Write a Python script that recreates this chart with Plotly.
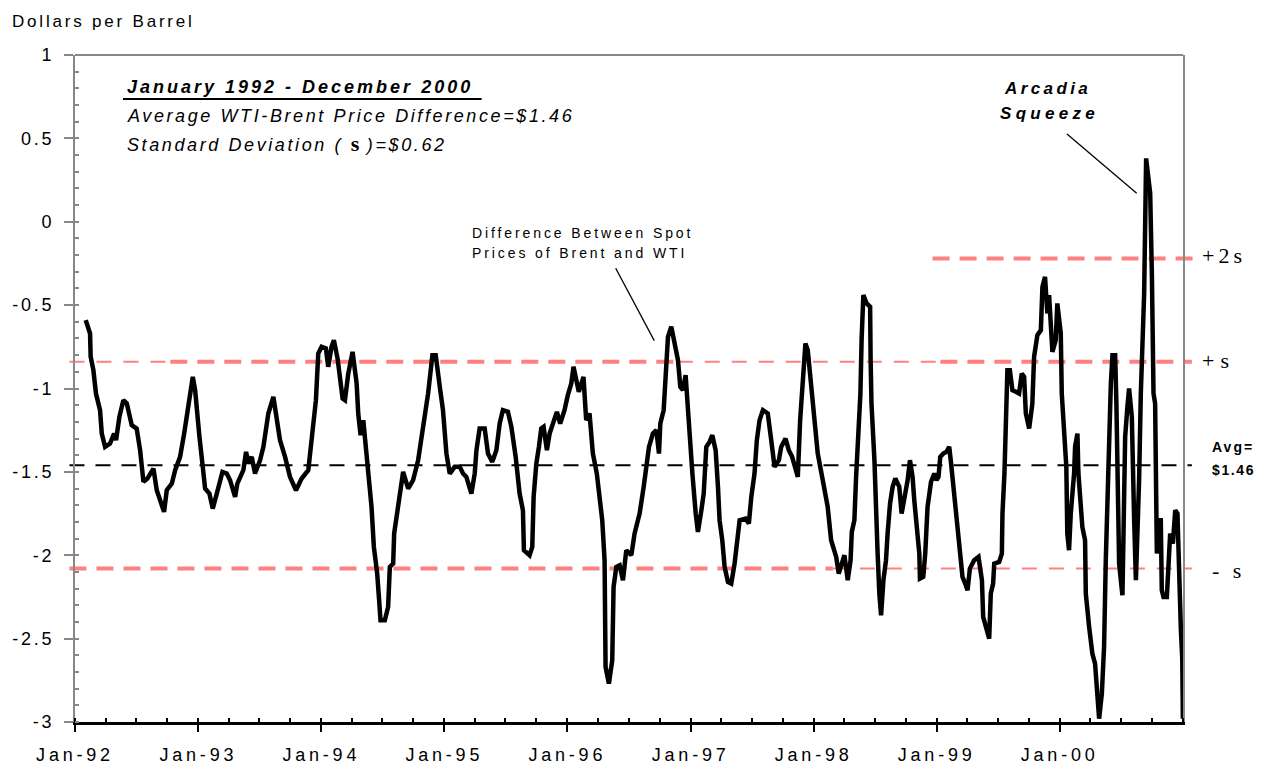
import plotly.graph_objects as go
import pandas as pd

# WTI-Brent spot price difference (decimal year, $/bbl)
years = [
    1992.087, 1992.122, 1992.127, 1992.149, 1992.170, 1992.203, 1992.217, 1992.244, 1992.284, 1992.317,
    1992.333, 1992.360, 1992.392, 1992.420, 1992.460, 1992.500, 1992.528, 1992.555, 1992.587, 1992.609,
    1992.636, 1992.663, 1992.690, 1992.722, 1992.744, 1992.785, 1992.812, 1992.852, 1992.885, 1992.920,
    1992.939, 1992.955, 1992.974, 1992.988,
    1993.009, 1993.036, 1993.055, 1993.090, 1993.117, 1993.150, 1993.177, 1993.196, 1993.231, 1993.258,
    1993.299, 1993.317, 1993.366, 1993.388, 1993.407, 1993.434, 1993.461, 1993.502, 1993.529, 1993.569,
    1993.610, 1993.637, 1993.664, 1993.705, 1993.745, 1993.794, 1993.840, 1993.894, 1993.913, 1993.935,
    1993.956, 1993.975,
    1994.002, 1994.037, 1994.056, 1994.083, 1994.102, 1994.132, 1994.173, 1994.192, 1994.219, 1994.254,
    1994.287, 1994.300, 1994.319, 1994.341, 1994.362, 1994.389, 1994.408, 1994.427, 1994.454, 1994.470,
    1994.481, 1994.516, 1994.543, 1994.557, 1994.584, 1994.592, 1994.617, 1994.638, 1994.665, 1994.706,
    1994.746, 1994.787, 1994.827, 1994.868, 1994.903, 1994.930, 1994.963, 1994.989,
    1995.017, 1995.044, 1995.084, 1995.125, 1995.152, 1995.179, 1995.220, 1995.247, 1995.261, 1995.287,
    1995.328, 1995.355, 1995.390, 1995.423, 1995.450, 1995.476, 1995.517, 1995.545, 1995.580, 1995.612,
    1995.639, 1995.647, 1995.693, 1995.715, 1995.726, 1995.748, 1995.769, 1995.788, 1995.807, 1995.834,
    1995.856, 1995.888, 1995.915, 1995.942, 1995.977,
    1996.004, 1996.032, 1996.050, 1996.072, 1996.093, 1996.131, 1996.153, 1996.180, 1996.207, 1996.239,
    1996.261, 1996.283, 1996.302, 1996.310, 1996.337, 1996.364, 1996.375, 1996.397, 1996.424, 1996.451,
    1996.478, 1996.519, 1996.545, 1996.586, 1996.619, 1996.640, 1996.662, 1996.694, 1996.722, 1996.743,
    1996.754, 1996.781, 1996.803, 1996.816, 1996.843, 1996.870, 1996.897, 1996.916, 1996.937, 1996.959,
    1996.978, 1996.992,
    1997.014, 1997.041, 1997.059, 1997.087, 1997.106, 1997.127, 1997.154, 1997.176, 1997.203, 1997.222,
    1997.235, 1997.257, 1997.276, 1997.303, 1997.330, 1997.357, 1997.384, 1997.398, 1997.446, 1997.473,
    1997.493, 1997.519, 1997.538, 1997.560, 1997.587, 1997.627, 1997.655, 1997.682, 1997.717, 1997.736,
    1997.771, 1997.798, 1997.825, 1997.852, 1997.871, 1997.890, 1997.911, 1997.933, 1997.952, 1997.980,
    1998.006, 1998.033, 1998.074, 1998.114, 1998.142, 1998.183, 1998.204, 1998.250, 1998.277, 1998.300,
    1998.310, 1998.331, 1998.345, 1998.358, 1998.380, 1998.390, 1998.404, 1998.431, 1998.459, 1998.463,
    1998.470, 1998.494, 1998.502, 1998.520, 1998.534, 1998.548, 1998.567, 1998.588, 1998.601, 1998.621,
    1998.642, 1998.664, 1998.696, 1998.715, 1998.737, 1998.764, 1998.783, 1998.804, 1998.818, 1998.837,
    1998.859, 1998.864, 1998.891, 1998.907, 1998.926, 1998.954, 1998.981, 1998.999,
    1999.015, 1999.029, 1999.054, 1999.080, 1999.102, 1999.116, 1999.143, 1999.157, 1999.178, 1999.189,
    1999.210, 1999.232, 1999.251, 1999.270, 1999.305, 1999.340, 1999.368, 1999.378, 1999.400, 1999.427,
    1999.440, 1999.459, 1999.468, 1999.508, 1999.530, 1999.535, 1999.551, 1999.563, 1999.575, 1999.595,
    1999.616, 1999.644, 1999.670, 1999.692, 1999.711, 1999.725, 1999.752, 1999.778, 1999.792, 1999.819,
    1999.847, 1999.860, 1999.881, 1999.900, 1999.914, 1999.941, 1999.968, 1999.981,
    2000.009, 2000.017, 2000.036, 2000.054, 2000.062, 2000.076, 2000.090, 2000.117, 2000.125, 2000.144,
    2000.152, 2000.171, 2000.184, 2000.206, 2000.212, 2000.239, 2000.265, 2000.287, 2000.306, 2000.320,
    2000.342, 2000.360, 2000.374, 2000.387, 2000.396, 2000.415, 2000.428, 2000.450, 2000.460, 2000.469,
    2000.482, 2000.509, 2000.523, 2000.531, 2000.549, 2000.563, 2000.585, 2000.590, 2000.604, 2000.618,
    2000.631, 2000.644, 2000.658, 2000.685, 2000.701, 2000.734, 2000.748, 2000.761, 2000.774, 2000.788,
    2000.801, 2000.820, 2000.828, 2000.842, 2000.869, 2000.882, 2000.896, 2000.918, 2000.937, 2000.955,
    2000.964, 2000.977, 2000.983, 2000.994, 2000.999,
]
spread = [
    -0.59, -0.67, -0.81, -0.89, -1.03, -1.13, -1.27, -1.35, -1.33, -1.27,
    -1.31, -1.17, -1.07, -1.09, -1.22, -1.24, -1.37, -1.56, -1.54, -1.51,
    -1.48, -1.61, -1.68, -1.74, -1.61, -1.57, -1.49, -1.41, -1.27, -1.11,
    -0.99, -0.93, -1.01, -1.15,
    -1.29, -1.47, -1.60, -1.63, -1.72, -1.63, -1.56, -1.50, -1.51, -1.55,
    -1.65, -1.57, -1.49, -1.38, -1.45, -1.41, -1.51, -1.43, -1.35, -1.15,
    -1.05, -1.17, -1.31, -1.41, -1.53, -1.61, -1.54, -1.49, -1.37, -1.25,
    -1.07, -0.79,
    -0.75, -0.76, -0.87, -0.75, -0.71, -0.82, -1.06, -1.07, -0.91, -0.78,
    -0.97, -1.15, -1.28, -1.19, -1.35, -1.55, -1.71, -1.95, -2.11, -2.27,
    -2.39, -2.39, -2.31, -2.07, -2.05, -1.87, -1.75, -1.62, -1.50, -1.60,
    -1.55, -1.43, -1.25, -1.03, -0.80, -0.80, -0.99, -1.13,
    -1.39, -1.51, -1.47, -1.47, -1.51, -1.53, -1.63, -1.51, -1.37, -1.24,
    -1.24, -1.39, -1.44, -1.37, -1.21, -1.13, -1.14, -1.23, -1.41, -1.63,
    -1.73, -1.97, -2.00, -1.95, -1.65, -1.45, -1.35, -1.24, -1.23, -1.37,
    -1.27, -1.19, -1.14, -1.21, -1.13,
    -1.04, -0.97, -0.87, -0.95, -1.02, -0.93, -1.19, -1.15, -1.39, -1.51,
    -1.65, -1.79, -2.03, -2.67, -2.77, -2.63, -2.19, -2.07, -2.06, -2.15,
    -1.97, -2.00, -1.87, -1.75, -1.59, -1.47, -1.35, -1.27, -1.25, -1.39,
    -1.21, -1.13, -0.91, -0.69, -0.63, -0.75, -0.83, -0.99, -1.01, -0.92,
    -1.13, -1.35,
    -1.51, -1.75, -1.86, -1.73, -1.63, -1.35, -1.32, -1.28, -1.37, -1.59,
    -1.79, -1.91, -2.07, -2.16, -2.17, -2.05, -1.87, -1.79, -1.78, -1.81,
    -1.65, -1.51, -1.31, -1.19, -1.13, -1.15, -1.31, -1.47, -1.43, -1.35,
    -1.30, -1.37, -1.41, -1.47, -1.53, -1.19, -0.97, -0.73, -0.77, -0.99,
    -1.23, -1.39, -1.55, -1.71, -1.91, -2.01, -2.11, -2.00, -2.15, -2.03,
    -1.86, -1.79, -1.53, -1.35, -1.03, -0.70, -0.44, -0.49, -0.51, -0.83,
    -1.09, -1.43, -1.65, -1.99, -2.23, -2.36, -2.15, -2.03, -1.87, -1.69,
    -1.59, -1.54, -1.59, -1.75, -1.66, -1.55, -1.43, -1.53, -1.67, -1.83,
    -1.99, -2.14, -2.13, -1.99, -1.71, -1.56, -1.51, -1.55,
    -1.53, -1.41, -1.39, -1.38, -1.35, -1.44, -1.63, -1.75, -1.87, -2.01,
    -2.13, -2.17, -2.21, -2.08, -2.03, -2.01, -2.15, -2.37, -2.43, -2.50,
    -2.23, -2.17, -2.05, -2.04, -1.99, -1.75, -1.51, -1.23, -0.89, -0.89,
    -1.01, -1.02, -1.03, -0.91, -0.93, -1.15, -1.24, -1.09, -0.81, -0.68,
    -0.65, -0.39, -0.33, -0.55, -0.44, -0.78, -0.71, -0.49,
    -0.67, -1.03, -1.23, -1.47, -1.87, -1.97, -1.75, -1.51, -1.35, -1.27,
    -1.51, -1.67, -1.83, -1.91, -2.23, -2.43, -2.59, -2.65, -2.91, -2.98,
    -2.83, -2.55, -2.03, -1.71, -1.33, -0.97, -0.80, -0.80, -1.09, -1.57,
    -2.05, -2.24, -1.69, -1.29, -1.11, -1.00, -1.17, -1.39, -1.79, -2.15,
    -1.89, -1.55, -1.03, -0.43, 0.38, 0.17, -0.33, -1.03, -1.09, -1.99,
    -1.79, -1.79, -2.21, -2.25, -2.25, -1.99, -1.87, -1.93, -1.73, -1.75,
    -2.03, -2.23, -2.45, -2.62, -2.98,
]

avg_diff = -1.46
std_dev = 0.62

x_tick_years = [1992, 1993, 1994, 1995, 1996, 1997, 1998, 1999, 2000]
x_tick_labels = ["Jan-92", "Jan-93", "Jan-94", "Jan-95", "Jan-96",
                 "Jan-97", "Jan-98", "Jan-99", "Jan-00"]
y_tick_values = [1, 0.5, 0, -0.5, -1, -1.5, -2, -2.5, -3]
y_tick_labels = ["1", "0.5", "0", "-0.5", "-1", "-1.5", "-2", "-2.5", "-3"]

SANS = "Liberation Sans, Arial, sans-serif"
SERIF = "Liberation Serif, Times New Roman, serif"
SALMON = "#ff8080"


def to_date(y):
    start = pd.Timestamp(int(y), 1, 1)
    end = pd.Timestamp(int(y) + 1, 1, 1)
    return start + (end - start) * (y - int(y))


def spaced(text, px):
    return f'<span style="letter-spacing:{px}px">{text}</span>'


dates = [to_date(y) for y in years]

fig = go.Figure()
fig.add_trace(go.Scatter(x=dates, y=spread, mode="lines",
                         line=dict(color="black", width=4.5),
                         hoverinfo="x+y", showlegend=False))

# dashed reference lines: (level, x0, x1, width, dash, colour), x in paper units
ref_lines = [
    (avg_diff, -0.005, 1.008, 2, "15px,11px", "black"),
    (avg_diff + std_dev, -0.005, 0.086, 2, "15px,12px", SALMON),
    (avg_diff + std_dev, 0.086, 0.544, 4, "17px,10px", SALMON),
    (avg_diff + std_dev, 0.544, 0.781, 2, "15px,12px", SALMON),
    (avg_diff + std_dev, 0.781, 1.008, 4, "17px,10px", SALMON),
    (avg_diff - std_dev, -0.005, 0.684, 4, "17px,10px", SALMON),
    (avg_diff - std_dev, 0.684, 1.008, 2, "15px,12px", SALMON),
    (avg_diff + 2 * std_dev, 0.774, 1.013, 4, "17px,10px", SALMON),
]
for level, x0, x1, w, dash, col in ref_lines:
    fig.add_shape(type="line", xref="paper", yref="y", x0=x0, x1=x1, y0=level, y1=level,
                  line=dict(color=col, width=w, dash=dash), layer="below")

# top frame line
fig.add_shape(type="line", xref="paper", yref="paper", x0=0, x1=1, y0=1, y1=1,
              line=dict(color="#888888", width=2))
# underline of the period heading
fig.add_shape(type="line", xref="paper", yref="paper", x0=0.0433, x1=0.367, y0=0.934, y1=0.934,
              line=dict(color="black", width=2))
# leader lines
fig.add_shape(type="line", xref="paper", yref="paper", x0=0.8953, y0=0.8816, x1=0.9582, y1=0.7927,
              line=dict(color="black", width=1.3))
fig.add_shape(type="line", xref="paper", yref="paper", x0=0.4880, y0=0.6802, x1=0.5228, y1=0.5717,
              line=dict(color="black", width=1.3))

notes = [
    (-0.0587, 1.0495, spaced("Dollars per Barrel", 2.8), 17, SANS),
    (0.0451, 0.952, "<b><i>" + spaced("January 1992 - December 2000", 3.0) + "</i></b>", 18, SANS),
    (0.0451, 0.9085, "<i>" + spaced("Average WTI-Brent Price Difference=$1.46", 2.6) + "</i>", 18, SANS),
    (0.0451, 0.868, "<i>" + spaced("Standard Deviation (\u00a0", 2.6)
     + f'<span style="font-family:{SERIF};font-style:normal;font-weight:bold;font-size:22px">s</span>'
     + spaced("\u00a0)=$0.62", 2.6) + "</i>", 18, SANS),
    (0.8366, 0.9505, "<b><i>" + spaced("Arcadia", 3.4) + "</i></b>", 17, SANS),
    (0.8330, 0.9130, "<b><i>" + spaced("Squeeze", 4.3) + "</i></b>", 17, SANS),
    (0.3565, 0.7331, spaced("Difference Between Spot", 2.9), 14, SANS),
    (0.3565, 0.7031, spaced("Prices of Brent and WTI", 2.9), 14, SANS),
    (1.0153, 0.6987, spaced("+2s", 4), 22, SERIF),
    (1.0153, 0.5427, spaced("+s", 6), 22, SERIF),
    (1.0244, 0.4123, "<b>" + spaced("Avg=", 2) + "</b>", 14, SANS),
    (1.0244, 0.3778, "<b>" + spaced("$1.46", 1.6) + "</b>", 14, SANS),
    (1.0244, 0.2264, spaced("- s", 4), 22, SERIF),
]
for x, y, text, size, fam in notes:
    fig.add_annotation(x=x, y=y, xref="paper", yref="paper", text=text, showarrow=False,
                       xanchor="left", yanchor="middle", align="left",
                       font=dict(family=fam, size=size, color="black"))

fig.update_xaxes(
    type="date",
    range=[pd.Timestamp(1992, 1, 1), pd.Timestamp(2001, 1, 1)],
    tickmode="array",
    tickvals=[pd.Timestamp(y, 1, 1) for y in x_tick_years],
    ticktext=[spaced(t, 3.8) for t in x_tick_labels],
    ticks="outside", ticklen=7, tickwidth=2, tickcolor="black",
    ticklabelstandoff=8,
    minor=dict(tickmode="linear", tick0="1992-01-01", dtick="M3",
               ticks="inside", ticklen=4, tickwidth=1.5, tickcolor="black"),
    showline=True, linecolor="black", linewidth=2.5,
    showgrid=False, zeroline=False, automargin=False,
    tickfont=dict(family=SANS, size=18, color="black"),
)
fig.update_yaxes(
    range=[-3, 1],
    tickmode="array",
    tickvals=y_tick_values,
    ticktext=[spaced(t, 2.8) for t in y_tick_labels],
    ticks="outside", ticklen=9, tickwidth=1.5, tickcolor="#888888",
    ticklabelstandoff=6,
    minor=dict(tickmode="linear", tick0=0, dtick=0.1,
               ticks="inside", ticklen=4, tickwidth=1.5, tickcolor="#888888"),
    showline=True, linecolor="#888888", linewidth=2, mirror=True,
    showgrid=False, zeroline=False, automargin=False,
    tickfont=dict(family=SANS, size=18, color="black"),
)

# page body adds an 8px offset, so the margins are shifted to land the plot
# area where the reference has it
fig.update_layout(
    width=1263, height=763,
    margin=dict(l=67, r=88, t=47, b=49),
    paper_bgcolor="white", plot_bgcolor="white",
    showlegend=False,
)

fig.write_html("out.html")
